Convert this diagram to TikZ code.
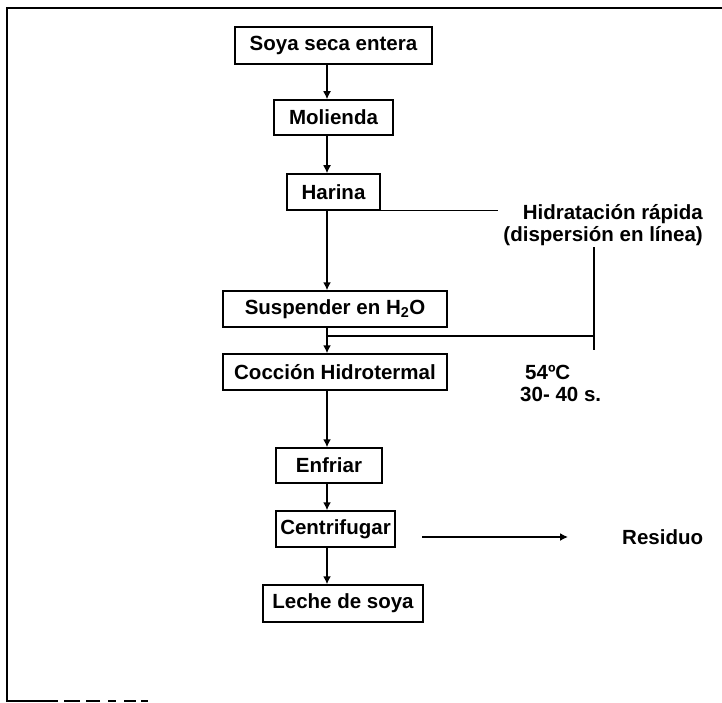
\documentclass[tikz,border=0pt]{standalone}
\usepackage{fontspec}
\setmainfont{Liberation Sans}
\usetikzlibrary{arrows.meta}

\tikzset{
  lbl/.style={font=\fontsize{20.5}{22}\selectfont\bfseries, inner sep=0pt},
  stepbox/.style={lbl, draw, line width=1.5pt},
  flow/.style={line width=1.5pt},
}

\begin{document}
\begin{tikzpicture}[x=1pt, y=-1pt, >={Latex[length=8pt, width=8pt]}]
    \useasboundingbox (0,0) rectangle (722,703);

    % frame
    \draw[flow] (722,8) -- (7,8) -- (7,701) -- (58,701);
    \draw[flow, dash pattern=on 16pt off 6pt on 14pt off 8pt on 8pt off 8pt on 12pt off 5pt on 7pt]
        (64,701) -- (150,701);

    % boxes
    \node[stepbox, minimum width=197, minimum height=37] (soya) at (333.5,45.5) {Soya seca entera};
    \node[stepbox, minimum width=119, minimum height=35] (molienda) at (333.5,117.5) {Molienda};
    \node[stepbox, minimum width=93, minimum height=36] (harina) at (333.5,192) {Harina};
    \node[stepbox, minimum width=224, minimum height=36] (suspender) at (335,309) {Suspender en H\textsubscript{2}O};
    \node[stepbox, minimum width=224, minimum height=36] (coccion) at (335,372) {Cocción Hidrotermal};
    \node[stepbox, minimum width=106, minimum height=35] (enfriar) at (329,465.5) {Enfriar};
    \node[stepbox, minimum width=119, minimum height=36] (centrifugar) at (335.5,529) {Centrifugar};
    \node[stepbox, minimum width=160, minimum height=37] (leche) at (343,603.5) {Leche de soya};

    % side texts
    \node[lbl, align=right, anchor=north east] (hidratacion) at (703,204) {Hidratación rápida\\(dispersión en línea)};
    \node[lbl, anchor=west] (temp) at (525,372) {54ºC};
    \node[lbl, anchor=west] (tiempo) at (520,394) {30- 40 s.};
    \node[lbl, anchor=west] (residuo) at (622,537) {Residuo};

    % main line
    \coordinate (sp) at (327,0);
    \draw[flow, ->] (soya.south -| sp) -- (molienda.north -| sp);
    \draw[flow, ->] (molienda.south -| sp) -- (harina.north -| sp);
    \draw[flow, ->] (harina.south -| sp) -- (suspender.north -| sp);
    \draw[flow, ->] (suspender.south -| sp) -- (coccion.north -| sp);
    \draw[flow, ->] (coccion.south -| sp) -- (enfriar.north -| sp);
    \draw[flow, ->] (enfriar.south -| sp) -- (centrifugar.north -| sp);
    \draw[flow, ->] (centrifugar.south -| sp) -- (leche.north -| sp);

    % hydration branch
    \coordinate (h0) at (498,209);
    \coordinate (v0) at (594,247);
    \coordinate (v1) at (594,350);
    \coordinate (j0) at (327,336);
    \draw[flow] (harina.south east) -- (harina.south east -| h0);
    \draw[flow] (v0) -- (v1);
    \draw[flow] (j0) -- (j0 -| v0);

    % residue
    \coordinate (r0) at (422,537);
    \coordinate (r1) at (568,537);
    \draw[flow, ->] (r0) -- (r1);
\end{tikzpicture}
\end{document}
